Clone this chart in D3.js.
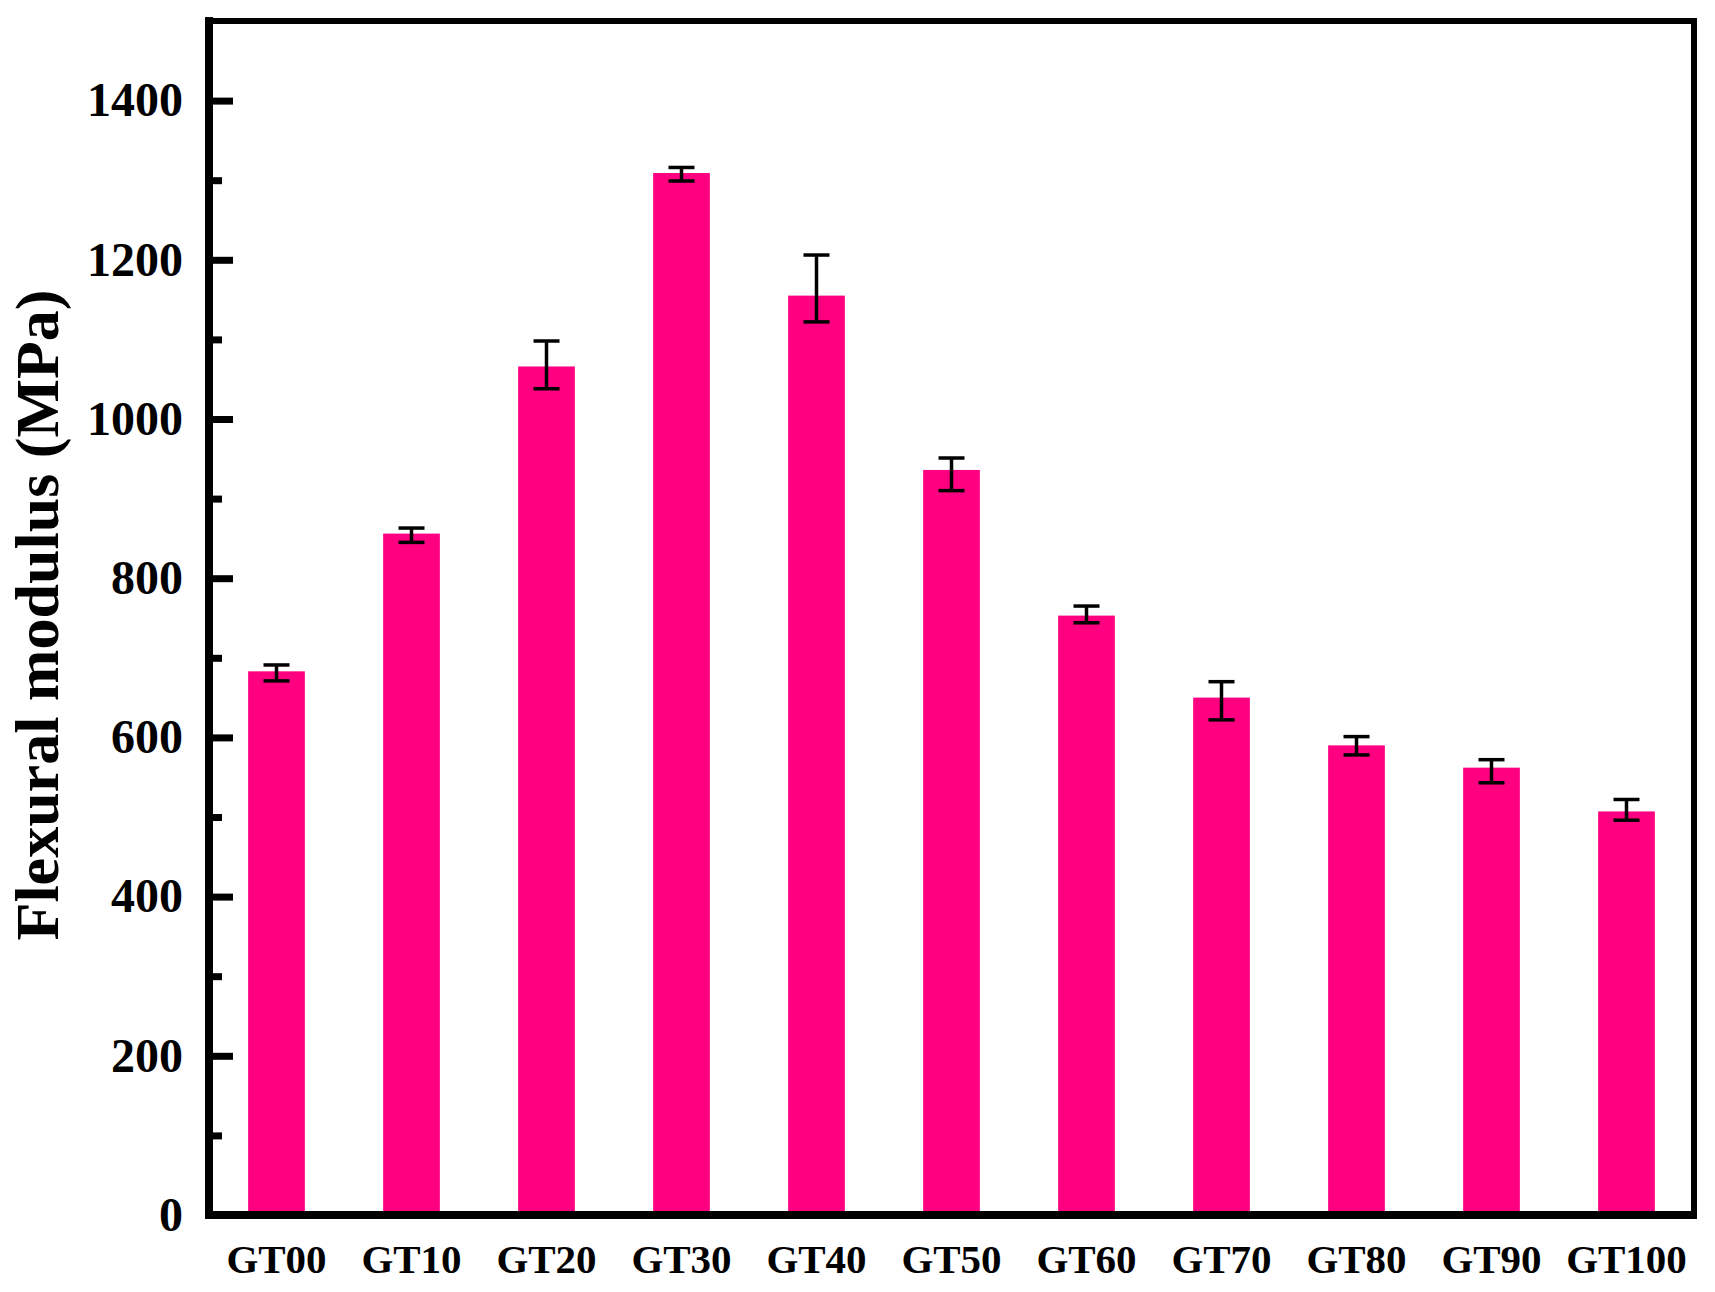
<!DOCTYPE html>
<html>
<head>
<meta charset="utf-8">
<script src="https://cdn.jsdelivr.net/npm/d3@7"></script>
<style>
  html, body { margin: 0; padding: 0; background: #fff; }
  svg text { font-family: "Liberation Serif", "Times New Roman", serif; font-weight: bold; fill: #000; }
</style>
</head>
<body>
<svg id="chart" width="1715" height="1292"></svg>
<script>
// sample names on the x axis
var samples = ["GT00", "GT10", "GT20", "GT30", "GT40", "GT50", "GT60", "GT70", "GT80", "GT90", "GT100"];
// flexural modulus (MPa)
var modulus = [683, 856, 1066, 1309, 1155, 936, 753, 650, 590, 562, 507];
// error bar extents above / below the bar top
var errUp   = [8, 7, 32, 7, 51, 15, 12, 20, 11, 10, 15];
var errDown = [12, 11, 28, 10, 33, 26, 9, 28, 12, 19, 11];
// tick values
var majorTicks = [0, 200, 400, 600, 800, 1000, 1200, 1400];
var minorTicks = [100, 300, 500, 700, 900, 1100, 1300];

var svg = d3.select("#chart");

// plot box (note: "top" is a reserved window property, so use other names)
var padL = 209, padR = 1694, padT = 21, padB = 1215;

var x = d3.scaleBand()
    .domain(samples)
    .range([padL, padR])
    .paddingInner(0.58)
    .paddingOuter(0.29);

var y = d3.scaleLinear()
    .domain([0, 1500])
    .range([padB, padT]);

var rows = samples.map(function(s, i){
    return {name: s, v: modulus[i], up: errUp[i], down: errDown[i]};
});

// bars
svg.append("g").selectAll("rect")
    .data(rows)
    .enter().append("rect")
    .attr("x", function(d){ return x(d.name); })
    .attr("y", function(d){ return y(d.v); })
    .attr("width", x.bandwidth())
    .attr("height", function(d){ return y(0) - y(d.v); })
    .attr("fill", "#ff0080");

// error bars
var capw = 26;
var eg = svg.append("g").attr("stroke", "#000").attr("stroke-width", 3.5);
rows.forEach(function(d){
    var cx = x(d.name) + x.bandwidth() / 2;
    var yt = y(d.v + d.up), yb = y(d.v - d.down);
    eg.append("line").attr("x1", cx).attr("x2", cx).attr("y1", yt).attr("y2", yb);
    eg.append("line").attr("x1", cx - capw/2).attr("x2", cx + capw/2).attr("y1", yt).attr("y2", yt);
    eg.append("line").attr("x1", cx - capw/2).attr("x2", cx + capw/2).attr("y1", yb).attr("y2", yb);
});

// y axis, ticks point inward
var yAxis = svg.append("g")
    .attr("transform", "translate(" + padL + ",0)")
    .call(d3.axisLeft(y).tickValues(majorTicks).tickSize(-24).tickPadding(26).tickFormat(d3.format("d")));
yAxis.select(".domain").remove();
yAxis.selectAll(".tick line").attr("stroke", "#000").attr("stroke-width", 7);
yAxis.selectAll(".tick text")
    .attr("font-size", 48)
    .attr("x", -26)
    .attr("dy", "0.32em");

var yMinor = svg.append("g")
    .attr("transform", "translate(" + padL + ",0)")
    .call(d3.axisLeft(y).tickValues(minorTicks).tickSize(-13).tickFormat(""));
yMinor.select(".domain").remove();
yMinor.selectAll(".tick line").attr("stroke", "#000").attr("stroke-width", 7);

// x labels
var xAxis = svg.append("g")
    .attr("transform", "translate(0," + padB + ")")
    .call(d3.axisBottom(x).tickSize(0).tickPadding(0));
xAxis.select(".domain").remove();
xAxis.selectAll(".tick text")
    .attr("font-size", 41)
    .attr("y", 58)
    .attr("dy", 0);

// frame
svg.append("path")
    .attr("d", "M" + padL + "," + padT + "H" + padR + "V" + padB)
    .attr("fill", "none").attr("stroke", "#000").attr("stroke-width", 6);
svg.append("path")
    .attr("d", "M" + padL + "," + (padT - 4) + "V" + padB + "H" + (padR + 3))
    .attr("fill", "none").attr("stroke", "#000").attr("stroke-width", 8);

// y title
svg.append("text")
    .attr("transform", "translate(58,615) rotate(-90)")
    .attr("text-anchor", "middle")
    .attr("font-size", 62)
    .text("Flexural modulus (MPa)");
</script>
</body>
</html>
